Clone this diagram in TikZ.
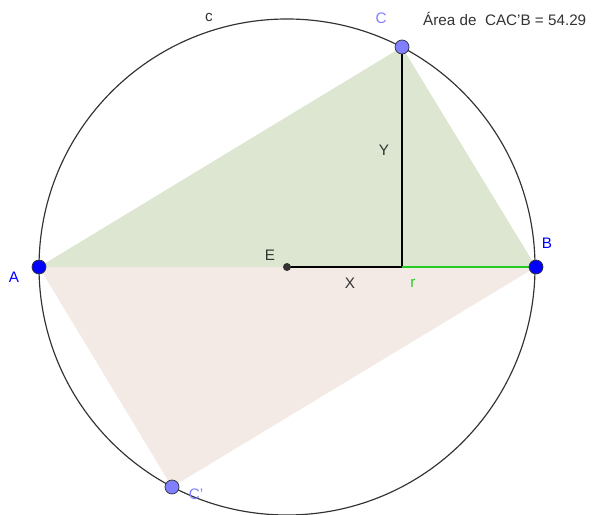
\documentclass[tikz,border=0pt]{standalone}
\usepackage{fontspec}
\setmainfont{Liberation Sans}
\usetikzlibrary{positioning, calc}
\definecolor{ggblue}{HTML}{0000FF}
\definecolor{gglilac}{HTML}{7F7FFF}
\definecolor{ggdark}{HTML}{333333}
\definecolor{gggreen}{HTML}{22CC22}
\definecolor{ggfillgreen}{HTML}{DCE6D0}
\definecolor{ggfillrose}{HTML}{F3EAE5}
\tikzset{
  pt/.style={circle, draw=ggdark, line width=0.6pt, inner sep=0pt, minimum size=14*0.03cm},
  lbl/.style={font=\fontsize{13}{15}\selectfont, inner sep=0pt}
}
\begin{document}
\begin{tikzpicture}[x=0.03cm, y=-0.03cm]
    \useasboundingbox (0,0) rectangle (597,515);
    \coordinate (E) at (287,267);
    \coordinate (A) at (39,267);
    \coordinate (B) at (536,267);
    \coordinate (C) at (402,47);
    \coordinate (Cp) at (172,487);
    \coordinate (foot) at (402,267);

    % shaded triangles
    \fill[ggfillgreen] (A) -- (C) -- (B) -- cycle;
    \fill[ggfillrose] (A) -- (Cp) -- (B) -- cycle;

    % circle c
    \draw[ggdark, line width=1pt] (E) circle (248);

    % legs X, Y and radius r
    \draw[black, line width=1.4pt] (C) -- (foot);
    \draw[black, line width=1.4pt] (E) -- (foot);
    \draw[gggreen, line width=1.2pt] (foot) -- (B);

    % points
    \node[pt, fill=ggblue] (pA) at (A) {};
    \node[pt, fill=ggblue] (pB) at (B) {};
    \node[pt, fill=gglilac] (pC) at (C) {};
    \node[pt, fill=gglilac] (pCp) at (Cp) {};
    \node[circle, fill=ggdark, inner sep=0pt, minimum size=8*0.03cm] (pE) at (E) {};

    % labels
    \node[lbl, text=ggdark] (lc) at (209,17) {c};
    \node[lbl, text=gglilac] (lC) at (381,18) {C};
    \node[lbl, text=ggdark, anchor=west] (area) at (423,19) {Área de\ \ CAC'B = 54.29};
    \node[lbl, text=ggdark] (lY) at (384,150) {Y};
    \node[lbl, text=ggdark] (lE) at (270,255) {E};
    \node[lbl, text=ggdark] (lX) at (350,283) {X};
    \node[lbl, text=gggreen] (lr) at (413,283) {r};
    \node[lbl, text=ggblue] (lA) at (14,277) {A};
    \node[lbl, text=ggblue] (lB) at (547,243) {B};
    \node[lbl, text=gglilac] (lCp) at (196,494) {C'};
  \end{tikzpicture}
\end{document}
